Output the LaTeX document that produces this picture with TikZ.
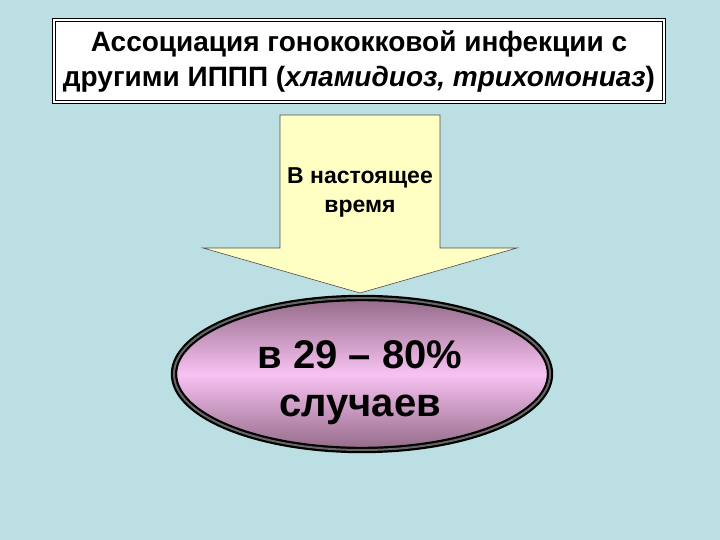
\documentclass[tikz,border=0pt]{standalone}
\usepackage{fontspec}
\setmainfont{Liberation Sans}
\usetikzlibrary{shapes.geometric}
\definecolor{bg}{HTML}{BBDFE3}
\definecolor{arrowfill}{HTML}{FFFFC4}
\definecolor{mauvedark}{HTML}{946A88}
\definecolor{pinklight}{HTML}{F7C2F2}
\tikzset{
  titlebox/.style={draw=black, double=white, double distance=2pt, line width=1.2pt, fill=white, minimum width=610pt, minimum height=82pt, align=center, font=\bfseries\fontsize{28}{35}\selectfont},
  bigarrow/.style={draw=black!70, line width=0.6pt, fill=arrowfill},
  oval/.style={ellipse, draw=black, double=black!60, double distance=2pt, line width=2.2pt, minimum width=376pt, minimum height=152pt, top color=mauvedark, bottom color=mauvedark, middle color=pinklight},
  ovaltext/.style={align=center, font=\bfseries\fontsize{40}{48}\selectfont}
}
\begin{document}
\begin{tikzpicture}[x=1pt,y=-1pt]
\useasboundingbox[fill=bg] (0,0) rectangle (720,540);
\node[titlebox] (title) at (359,61) {Ассоциация гонококковой инфекции с\\другими ИППП (\textit{хламидиоз, трихомониаз})};
\draw[bigarrow] (280,115) -- (440,115) -- (440,248) -- (517,248) -- (360,293) -- (203,248) -- (280,248) -- cycle;
\node[align=center, font=\bfseries\fontsize{23}{29}\selectfont] (lbl) at (360,192) {В настоящее\\время};
\node[oval] (res) at (362,374) {};
\node[ovaltext] (restext) at (360,383) {в 29 – 80\%\\случаев};
\end{tikzpicture}
\end{document}
